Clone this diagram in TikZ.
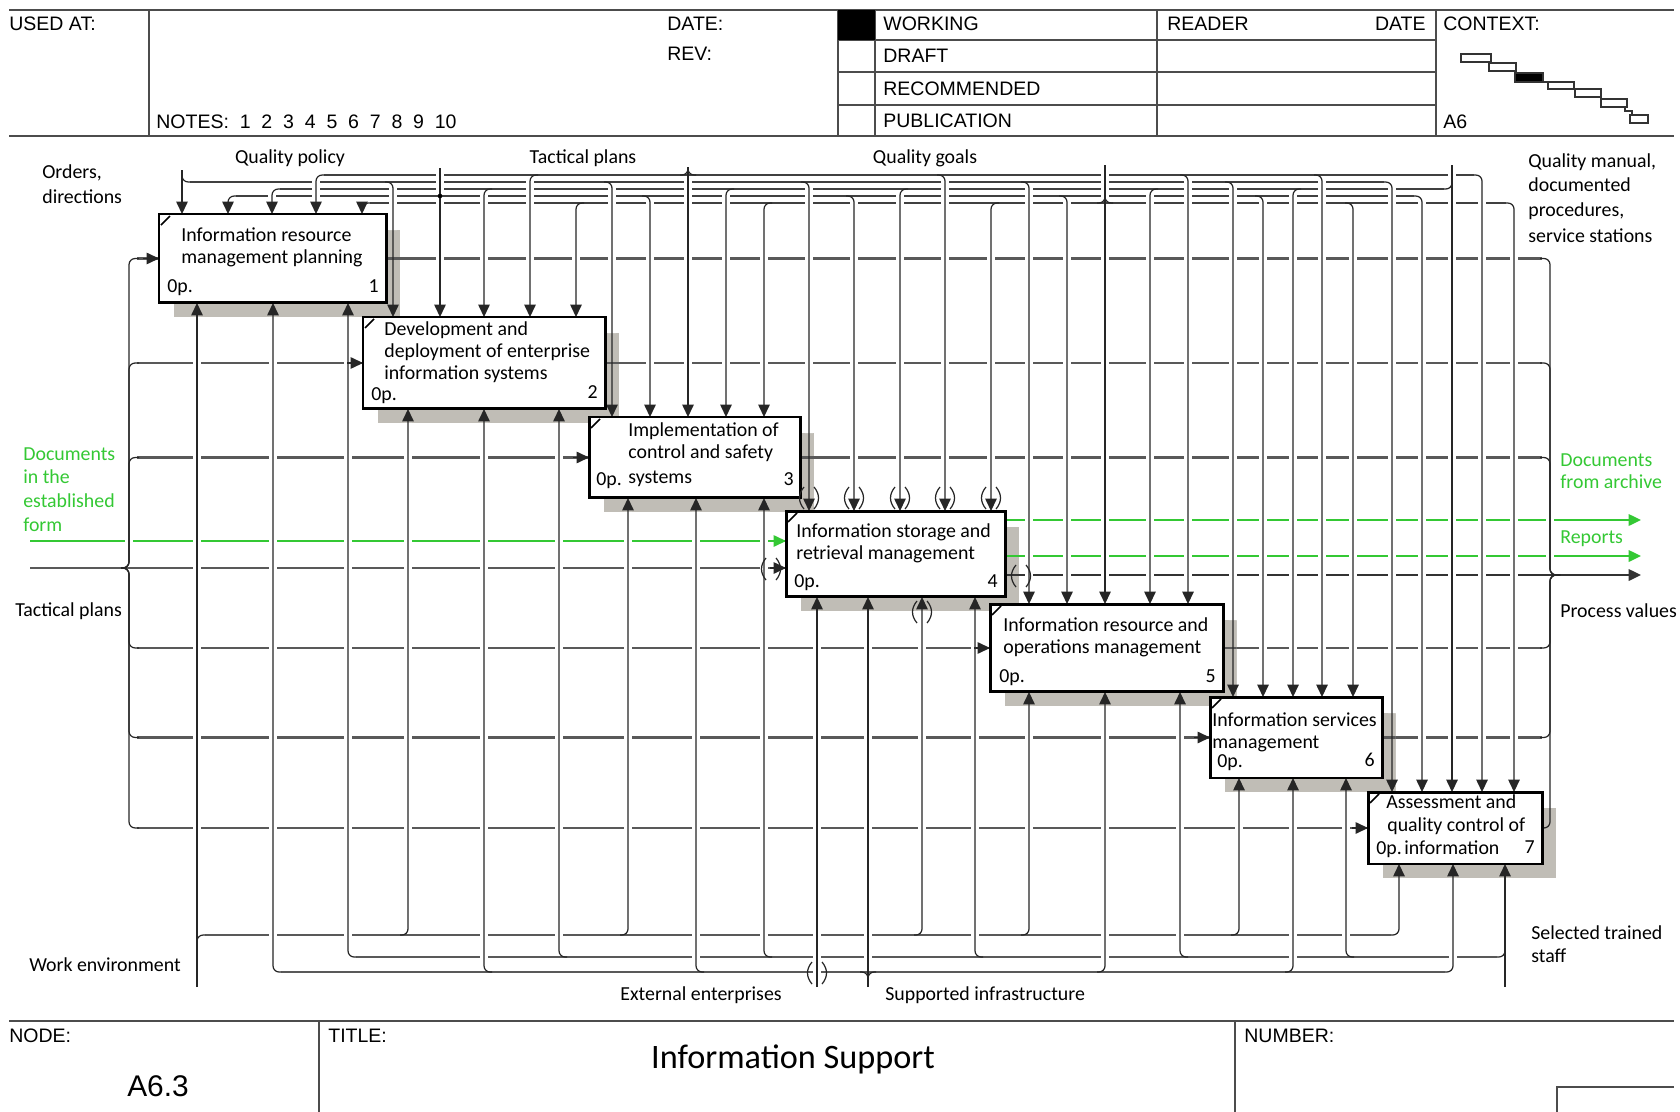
\documentclass[tikz,border=0pt]{standalone}
\usepackage{fontspec}
\setmainfont{Liberation Sans}
\newfontfamily\idf{Carlito}
\usetikzlibrary{arrows.meta}
\definecolor{idgreen}{RGB}{52,200,52}
\definecolor{shadowgray}{RGB}{192,189,182}
\pgfdeclarelayer{shadows}
\pgfdeclarelayer{horiz}
\pgfdeclarelayer{halos}
\pgfdeclarelayer{vert}
\pgfsetlayers{shadows,horiz,halos,vert,main}

\begin{document}
\begin{tikzpicture}[x=0.02cm,y=-0.02cm,
  idbox/.style={draw,line width=1.7pt,fill=white,inner sep=0pt,outer sep=0pt,anchor=north west},
  hl/.style={draw=black!65,line width=1.15pt},
  bus/.style={draw=black!75,line width=0.8pt},
  vl/.style={draw=black!85,line width=0.7pt,rounded corners=3.5pt},
  halo/.style={draw=white,line width=4.6pt},
  idtip/.style={-{Triangle[length=7pt,width=6.5pt]}},
  hdframe/.style={draw=black!70,line width=1pt},
  hdr/.style={font=\fontsize{11.1}{13}\selectfont,inner sep=0pt,anchor=mid west},
  lbl/.style={font=\idf\fontsize{11.3}{13}\selectfont,inner sep=0pt,anchor=mid west},
  num/.style={lbl,anchor=mid east},
  glbl/.style={lbl,text=idgreen}]
\useasboundingbox (0,0) rectangle (1680,1112);

\def\ctrllist{228/196/b1/1,272/189/b1/1,316/175/b1/1,362/203/b1/1,393/182/b2/-1,484/189/b2/1,530/175/b2/1,576/203/b2/1,612/182/b3/-1,650/196/b3/-1,726/189/b3/1,764/203/b3/1,809/182/b4/-1,854/196/b4/-1,900/189/b4/1,945/175/b4/-1,991/203/b4/1,1029/182/b5/-1,1067/196/b5/-1,1150/189/b5/1,1188/175/b5/-1,1233/182/b6/-1,1263/196/b6/-1,1293/189/b6/1,1322/175/b6/-1,1353/203/b6/-1,1392/182/b7/-1,1422/196/b7/-1,1482/175/b7/-1,1514/203/b7/-1}
\def\mechlist{273/972/b1/1,348/957/b1/1,408/935/b2/-1,484/972/b2/1,559/957/b2/1,628/935/b3/-1,696/972/b3/1,764/957/b3/1,922/935/b4/-1,975/957/b4/1,1029/935/b5/-1,1105/972/b5/-1,1180/957/b5/1,1239/935/b6/-1,1293/972/b6/-1,1346/957/b6/1,1399/935/b7/-1,1453/972/b7/-1}

\node[idbox,minimum width=4.56cm,minimum height=1.78cm] (b1) at (159,214) {};
\node[idbox,minimum width=4.86cm,minimum height=1.84cm] (b2) at (363,317) {};
\node[idbox,minimum width=4.24cm,minimum height=1.62cm] (b3) at (589,417) {};
\node[idbox,minimum width=4.40cm,minimum height=1.72cm] (b4) at (786,511) {};
\node[idbox,minimum width=4.68cm,minimum height=1.76cm] (b5) at (990,604) {};
\node[idbox,minimum width=3.46cm,minimum height=1.62cm] (b6) at (1210,697) {};
\node[idbox,minimum width=3.50cm,minimum height=1.44cm] (b7) at (1368,792) {};
\foreach \bx in {b1,b2,b3,b4,b5,b6,b7}
  \draw[line width=0.9pt] ([shift={(2,11)}]\bx.north west) -- ([shift={(11,2)}]\bx.north west);

\coordinate (orders) at (182,170);
\coordinate (policy) at (440,168);
\coordinate (tactical) at (688,167);
\coordinate (goals) at (1105,165);
\coordinate (manual) at (1452,165);
\coordinate (workenv) at (197,987);
\coordinate (extent) at (817,987);
\coordinate (suppinfra) at (868,987);
\coordinate (staff) at (1505,987);
\coordinate (docsin) at (30,541);
\coordinate (tplans) at (30,568);
\coordinate (docsout) at (1641,520);
\coordinate (reportsout) at (1641,556);
\coordinate (procout) at (1641,575);

\begin{pgfonlayer}{shadows}
\foreach \bx in {b1,b2,b3,b4,b5,b6,b7}
  \fill[shadowgray] ([shift={(15,16)}]\bx.north west) rectangle ([shift={(13,14)}]\bx.south east);
\end{pgfonlayer}

\begin{pgfonlayer}{horiz}
\draw[bus] (324,175) -- (1474,175);
\draw[bus] (190,182) -- (1384,182);
\draw[bus] (280,189) -- (1444,189);
\draw[bus] (236,196) -- (1414,196);
\draw[bus] (370,203) -- (1506,203);
\draw[hl] (205,935) -- (1391,935);
\draw[hl] (356,957) -- (1497,957);
\draw[hl] (281,972) -- (1445,972);
\foreach \bx in {b1,b2,b3,b5,b6,b7} {
  \draw[hl] (137,0 |- \bx.west) -- (\bx.west);
  \draw[hl] (\bx.east) -- (1542,0 |- \bx.east);
}
\draw[hl,draw=idgreen] (docsin) -- (docsin -| b4.west);
\draw[hl] (tplans) -- (tplans -| b4.west);
\draw[hl,draw=idgreen,idtip] (b4.east |- docsout) -- (docsout);
\draw[hl,draw=idgreen,idtip] (b4.east |- reportsout) -- (reportsout);
\draw[hl,draw=black!80,idtip] (b4.east |- procout) -- (procout);
\end{pgfonlayer}

\begin{pgfonlayer}{halos}
\begin{scope}
\clip (0,0) -- (1680,0) -- (1680,1112) -- (0,1112) -- cycle
  \foreach \bx in {b1,b2,b3,b4,b5,b6,b7} {([shift={(15,16)}]\bx.north west) -- ([shift={(15,14)}]\bx.south west) -- ([shift={(13,14)}]\bx.south east) -- ([shift={(13,16)}]\bx.north east) -- cycle};
\foreach \x/\lv/\bx/\dd in \ctrllist
  \draw[halo] (\x,\lv+6) -- (\x,0 |- \bx.north);
\foreach \x/\lv/\bx/\dd in \mechlist
  \draw[halo] (\x,\lv-6) -- (\x,0 |- \bx.south);
\foreach \x/\st/\lv/\bx in {182/170/182/b1,440/168/196/b2,688/167/175/b3,1105/165/203/b5,1452/165/189/b7} {
  \draw[halo] (\x,\st) -- (\x,\lv-5);
  \draw[halo] (\x,\lv+5) -- (\x,0 |- \bx.north);
}
\draw[halo] (197,929) -- (197,0 |- b1.south);
\draw[halo] (extent) -- (extent |- b4.south);
\draw[halo] (suppinfra) -- (868,978);
\draw[halo] (868,966) -- (868,0 |- b4.south);
\draw[halo] (1505,951) -- (1505,0 |- b7.south);
\draw[halo] (129,470) -- (129,555);
\draw[halo] (1550,470) -- (1550,565);
\end{scope}
\end{pgfonlayer}

\begin{pgfonlayer}{vert}
\foreach \x/\lv/\bx/\dd in \ctrllist
  \draw[vl,idtip] ({\x+(\dd)*8},\lv) -- (\x,\lv) -- (\x,0 |- \bx.north);
\foreach \x/\lv/\bx/\dd in \mechlist
  \draw[vl,idtip] ({\x+(\dd)*8},\lv) -- (\x,\lv) -- (\x,0 |- \bx.south);
\draw[vl,idtip] (orders) -- (orders |- b1.north);
\draw[vl,idtip] (policy) -- (policy |- b2.north);
\draw[vl,idtip] (tactical) -- (tactical |- b3.north);
\draw[vl,idtip] (goals) -- (goals |- b5.north);
\draw[vl,idtip] (manual) -- (manual |- b7.north);
\draw[vl] (182,174) -- (182,182) -- (190,182);
\fill (440,196) circle (1.3pt);
\draw[vl] (688,169) -- (688,175) -- (680,175);
\draw[vl] (688,169) -- (688,175) -- (696,175);
\draw[vl] (1105,196) -- (1105,203) -- (1097,203);
\draw[vl] (1105,196) -- (1105,203) -- (1113,203);
\draw[vl] (1452,181) -- (1452,189) -- (1444,189);
\draw[vl,idtip] (workenv) -- (workenv |- b1.south);
\draw[vl,idtip] (extent) -- (extent |- b4.south);
\draw[vl,idtip] (suppinfra) -- (suppinfra |- b4.south);
\draw[vl,idtip] (staff) -- (staff |- b7.south);
\draw[vl] (197,943) -- (197,935) -- (205,935);
\draw[vl] (868,980) -- (868,972) -- (860,972);
\draw[vl] (868,980) -- (868,972) -- (876,972);
\draw[vl] (1505,949) -- (1505,957) -- (1497,957);
\foreach \bx in {b1,b2,b3,b5,b6,b7} {
  \draw[vl] (121,568) -- (129,568) -- (129,0 |- \bx.west) -- (139,0 |- \bx.west);
  \draw[vl,idtip] ([shift={(-16,0)}]\bx.west) -- (\bx.west);
  \draw[vl] (1540,0 |- \bx.east) -- (1550,0 |- \bx.east) -- (1550,575) -- (1560,575);
}
\draw[vl,draw=idgreen,idtip] (770,541) -- (docsin -| b4.west);
\draw[vl,idtip] (770,568) -- (tplans -| b4.west);
\end{pgfonlayer}

\foreach \x/\y in {809/498,854/498,900/498,945/498,991/498,817/973,922/612,771/569,1021/576} {
  \draw[black!85,line width=0.7pt] (\x-5,\y-11) .. controls (\x-11,\y-4) and (\x-11,\y+4) .. (\x-5,\y+11);
  \draw[black!85,line width=0.7pt] (\x+5,\y-11) .. controls (\x+11,\y-4) and (\x+11,\y+4) .. (\x+5,\y+11);
}

\node[lbl] (t1a) at (181,237) {Information resource};
\node[lbl] (t1b) at (181,259) {management planning};
\node[lbl] (o1) at (167,288) {0p.};
\node[num] (n1) at (379,288) {1};
\node[lbl] (t2a) at (384,331) {Development and};
\node[lbl] (t2b) at (384,353) {deployment of enterprise};
\node[lbl] (t2c) at (384,375) {information systems};
\node[lbl] (o2) at (371,396) {0p.};
\node[num] (n2) at (598,394) {2};
\node[lbl] (t3a) at (628,432) {Implementation of};
\node[lbl] (t3b) at (628,454) {control and safety};
\node[lbl] (t3c) at (628,479) {systems};
\node[lbl] (o3) at (596,481) {0p.};
\node[num] (n3) at (794,481) {3};
\node[lbl] (t4a) at (796,533) {Information storage and};
\node[lbl] (t4b) at (796,555) {retrieval management};
\node[lbl] (o4) at (794,583) {0p.};
\node[num] (n4) at (998,583) {4};
\node[lbl] (t5a) at (1003,627) {Information resource and};
\node[lbl] (t5b) at (1003,649) {operations management};
\node[lbl] (o5) at (999,678) {0p.};
\node[num] (n5) at (1216,678) {5};
\node[lbl] (t6a) at (1212,722) {Information services};
\node[lbl] (t6b) at (1212,744) {management};
\node[lbl] (o6) at (1217,763) {0p.};
\node[num] (n6) at (1375,762) {6};
\node[lbl] (t7a) at (1386,804) {Assessment and};
\node[lbl] (t7b) at (1387,827) {quality control of};
\node[lbl] (o7) at (1376,850) {0p.};
\node[lbl] (t7c) at (1404,850) {information};
\node[num] (n7) at (1535,849) {7};

\node[lbl] (ordl) at (42,174) {Orders,};
\node[lbl] (ordl2) at (42,199) {directions};
\node[lbl,anchor=mid] (qpol) at (290,159) {Quality policy};
\node[lbl,anchor=mid] (tpl) at (583,159) {Tactical plans};
\node[lbl,anchor=mid] (qgoal) at (925,159) {Quality goals};
\node[lbl] (qman) at (1528,163) {Quality manual,};
\node[lbl] (qman2) at (1528,187) {documented};
\node[lbl] (qman3) at (1528,212) {procedures,};
\node[lbl] (qman4) at (1528,238) {service stations};
\node[glbl] (dinl) at (23,456) {Documents};
\node[glbl] (dinl2) at (23,479) {in the};
\node[glbl] (dinl3) at (23,503) {established};
\node[glbl] (dinl4) at (23,527) {form};
\node[lbl] (tpll) at (15,612) {Tactical plans};
\node[glbl] (doutl) at (1560,462) {Documents};
\node[glbl] (doutl2) at (1560,484) {from archive};
\node[glbl] (repl) at (1560,539) {Reports};
\node[lbl] (procl) at (1560,613) {Process values};
\node[lbl] (workl) at (29,967) {Work environment};
\node[lbl,anchor=mid] (extl) at (701,996) {External enterprises};
\node[lbl] (suppl) at (885,996) {Supported infrastructure};
\node[lbl] (staffl) at (1531,935) {Selected trained};
\node[lbl] (staffl2) at (1531,958) {staff};

\draw[hdframe] (9,10) -- (1674,10);
\draw[hdframe] (9,136) -- (1674,136);
\draw[hdframe] (149,10) -- (149,136);
\draw[hdframe] (838,10) -- (838,136);
\draw[hdframe] (875,10) -- (875,136);
\draw[hdframe] (1157,10) -- (1157,136);
\draw[hdframe] (1436,10) -- (1436,136);
\foreach \yy in {40,72,105}
  \draw[hdframe] (838,\yy) -- (1436,\yy);
\fill (838,10) rectangle (875,40);
\node[hdr] (usedat) at (9,26) {USED AT:};
\node[hdr] (datel) at (667,26) {DATE:};
\node[hdr] (revl) at (667,56) {REV:};
\node[hdr] (notes) at (156,124) {NOTES:\ \ 1\ \ 2\ \ 3\ \ 4\ \ 5\ \ 6\ \ 7\ \ 8\ \ 9\ \ 10};
\node[hdr] (working) at (883,26) {WORKING};
\node[hdr] (draft) at (883,58) {DRAFT};
\node[hdr] (recomm) at (883,91) {RECOMMENDED};
\node[hdr] (public) at (883,123) {PUBLICATION};
\node[hdr] (reader) at (1167,26) {READER};
\node[hdr,anchor=mid east] (rdate) at (1426,26) {DATE};
\node[hdr] (context) at (1443,26) {CONTEXT:};
\node[hdr] (ctxnode) at (1443,124) {A6};
\foreach \xa/\ya/\xb/\yb/\cc in {1461/54/1491/62/white,1489/63/1516/71/white,1515/73/1543/82/black,1548/82/1574/89/white,1575/89/1601/97/white,1601/99/1627/107/white,1630/115/1648/123/white}
  \draw[black!80,line width=0.7pt,fill=\cc] (\xa,\ya) rectangle (\xb,\yb);
\draw[black!80,line width=0.7pt] (1543,82) -- (1548,82);
\draw[black!80,line width=0.7pt] (1625,107) -- (1625,111) -- (1632,111) -- (1632,115);

\draw[hdframe] (9,1021) -- (1674,1021);
\draw[hdframe] (319,1021) -- (319,1112);
\draw[hdframe] (1235,1021) -- (1235,1112);
\draw[hdframe] (1557,1112) -- (1557,1087) -- (1674,1087);
\node[hdr] (nodel) at (9,1038) {NODE:};
\node[hdr] (titlel) at (328,1038) {TITLE:};
\node[hdr] (numberl) at (1244,1038) {NUMBER:};
\node[hdr,anchor=mid,font=\fontsize{17}{20}\selectfont] (nodeval) at (158,1092) {A6.3};
\node[lbl,anchor=mid,font=\idf\fontsize{19.5}{22}\selectfont] (titleval) at (793,1064) {Information Support};
\end{tikzpicture}
\end{document}
